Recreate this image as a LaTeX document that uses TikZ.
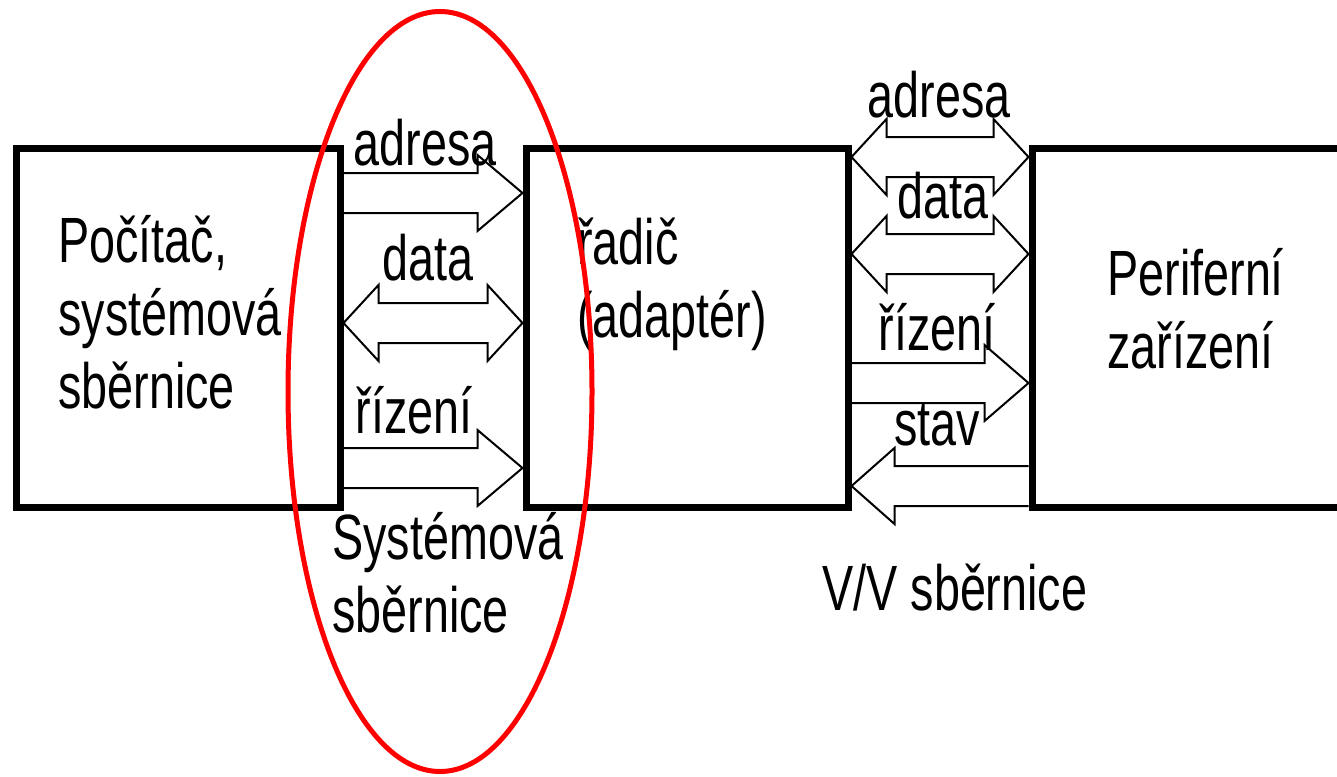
\documentclass[tikz,border=0pt]{standalone}
\usepackage{fontspec}
\setmainfont{Liberation Sans}[FakeStretch=0.73]
\usetikzlibrary{calc}

\tikzset{
  box/.style={draw, line width=3.5pt, minimum height=179.5pt},
  bus/.style={draw, line width=1pt, line join=miter},
  lbl/.style={inner sep=0pt, font=\fontsize{32pt}{36.5pt}\selectfont},
  txt/.style={lbl, align=left, anchor=base west},
}

% single bus arrow: tail, tip, y, signed head length
\newcommand{\busone}[4]{%
  \draw[bus] ($(#1 |- 0,#3)+(0,-20)$) -- ($(#2 |- 0,#3)+(#4,-20)$) -- ++(0,-18)
    -- (#2 |- 0,#3) -- ++(#4,38) -- ++(0,-18) -- ($(#1 |- 0,#3)+(0,20)$);}
% double bus arrow: left tip, right tip, y
\newcommand{\bustwo}[3]{%
  \draw[bus] ($(#1 |- 0,#3)+(35,-20)$) -- ($(#2 |- 0,#3)+(-35,-20)$) -- ++(0,-18)
    -- (#2 |- 0,#3) -- ++(-35,38) -- ++(0,-18) -- ($(#1 |- 0,#3)+(35,20)$)
    -- ++(0,18) -- (#1 |- 0,#3) -- ++(35,-38) -- cycle;}

\begin{document}
\begin{tikzpicture}[x=0.5pt,y=-0.5pt]
  \clip (0,0) rectangle (1337,776);

  % blocks
  \node [box, minimum width=162pt] (pc) at (178,327.5) {};
  \node [box, minimum width=161pt] (radic) at (687,327.5) {};
  \node [box, minimum width=200pt] (periph) at (1232,327.5) {};

  % base of a multi-line node = its last line
  \node [txt] (pctext) at (58,408) {Počítač,\\systémová\\sběrnice};
  \node [txt] (radictext) at (577,337) {řadič\\(adaptér)};
  \node [txt] (periphtext) at (1107,368) {Periferní\\zařízení};

  % system bus
  \busone{pc.east}{radic.west}{193}{-45}
  \bustwo{pc.east}{radic.west}{323}
  \busone{pc.east}{radic.west}{468}{-45}
  \node [lbl, anchor=base] (adrL) at (425,165) {adresa};
  \node [lbl, anchor=base] (dataL) at (428,280) {data};
  \node [lbl, anchor=base] (rizL) at (414,433) {řízení};
  \node [txt] (sysbus) at (332,632) {Systémová\\sběrnice};

  % I/O bus
  \bustwo{radic.east}{periph.west}{157}
  \bustwo{radic.east}{periph.west}{254}
  \busone{radic.east}{periph.west}{383}{-44}
  \busone{periph.west}{radic.east}{486}{43}
  \node [lbl, anchor=base] (adrR) at (939,117) {adresa};
  \node [lbl, anchor=base] (dataR) at (943,218) {data};
  \node [lbl, anchor=base] (rizR) at (937,350) {řízení};
  \node [lbl, anchor=base] (stavR) at (937,445) {stav};
  \node [txt] (iobus) at (822,610) {V/V sběrnice};

  \draw [red, line width=2.5pt] (440,391.5) ellipse [x radius=76pt, y radius=190pt];
\end{tikzpicture}
\end{document}
